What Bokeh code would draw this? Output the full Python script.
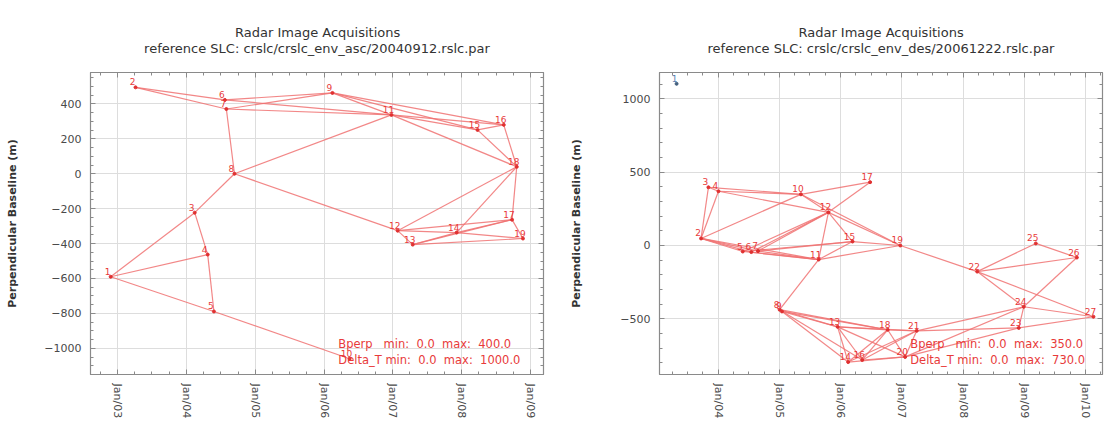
import math
import pandas as pd
from bokeh.plotting import figure
from bokeh.models import (ColumnDataSource, FixedTicker, DatetimeTickFormatter,
                          LinearAxis, DatetimeAxis, Range1d, Title, Label)
from bokeh.layouts import row
from bokeh.embed import file_html
from bokeh.resources import INLINE
from bokeh.core.properties import value

# ---------------- data: ascending track ----------------
asc_ids = list(range(1, 20))
asc_dates = ["2002-11-25", "2003-04-06", "2004-02-14", "2004-04-23", "2004-05-26",
             "2004-07-23", "2004-07-31", "2004-09-12", "2006-02-14", "2006-05-16",
             "2006-12-24", "2007-01-26", "2007-04-16", "2007-12-05", "2008-03-25",
             "2008-08-11", "2008-09-24", "2008-10-19", "2008-11-21"]
asc_bperp = [-590, 495, -223, -463, -789, 423, 371, 0, 463, -1060,
             337, -326, -406, -337, 251, 280, -263, 40, -371]
asc_pairs = [(1, 3), (3, 8), (1, 4), (3, 4), (4, 5), (1, 5), (5, 10),
             (2, 6), (2, 7), (6, 9), (7, 9), (6, 11), (7, 11), (7, 8),
             (8, 11), (8, 12), (9, 11), (9, 15), (9, 16), (11, 15), (11, 16),
             (11, 18), (15, 16), (15, 18), (16, 18), (12, 18), (14, 18), (17, 18),
             (12, 13), (12, 14), (12, 17), (13, 14), (13, 19), (14, 17), (14, 19),
             (17, 19), (13, 17)]
asc_isolated = []
asc_ref = "crslc/crslc_env_asc/20040912.rslc.par"
asc_year_ticks = ["2003-01-01", "2004-01-01", "2005-01-01", "2006-01-01",
                  "2007-01-01", "2008-01-01", "2009-01-01"]
asc_y_ticks = [-1000, -800, -600, -400, -200, 0, 200, 400]
asc_x_limits = ["2002-08-10", "2009-03-10"]
asc_y_limits = [-1150, 580]
asc_stats = ["Bperp   min:  0.0  max:  400.0", "Delta_T min:  0.0  max:  1000.0"]

# ---------------- data: descending track ----------------
des_ids = list(range(1, 28))
des_dates = ["2003-04-27", "2003-09-20", "2003-11-03", "2004-01-02", "2004-05-26",
             "2004-07-16", "2004-08-25", "2005-01-01", "2005-01-15", "2005-05-08",
             "2005-08-22", "2005-10-19", "2005-12-13", "2006-02-14", "2006-03-12",
             "2006-05-09", "2006-06-25", "2006-10-08", "2006-12-22", "2007-01-20",
             "2007-03-30", "2008-03-25", "2008-11-28", "2008-12-28", "2009-03-10",
             "2009-11-10", "2010-02-17"]
des_bperp = [1103, 48, 397, 370, -41, -45, -38, -438, -450, 349,
             -96, 226, -555, -795, 27, -781, 432, -575, 0, -760,
             -582, -178, -562, -418, 14, -82, -486]
des_pairs = [(2, 3), (2, 4), (3, 4), (3, 10), (4, 10), (4, 12), (2, 5), (2, 6),
             (2, 7), (2, 10), (2, 11), (5, 12), (6, 12), (7, 12), (5, 11), (6, 11),
             (7, 11), (5, 15), (7, 15), (8, 11), (10, 12), (10, 17), (10, 19),
             (12, 17), (12, 19), (12, 15), (11, 12), (11, 15), (11, 19), (15, 19),
             (19, 22), (22, 25), (22, 26), (22, 27), (25, 26), (24, 26), (23, 24),
             (24, 27), (23, 27), (22, 24), (21, 24), (21, 23), (20, 23), (20, 24),
             (8, 13), (8, 18), (8, 16), (9, 13), (9, 18), (9, 14), (13, 14),
             (13, 16), (13, 18), (13, 20), (13, 21), (14, 18), (16, 18), (18, 20),
             (18, 21), (14, 20), (14, 21), (16, 20), (16, 21), (20, 21)]
des_isolated = [1]
des_ref = "crslc/crslc_env_des/20061222.rslc.par"
des_year_ticks = ["2004-01-01", "2005-01-01", "2006-01-01", "2007-01-01",
                  "2008-01-01", "2009-01-01", "2010-01-01"]
des_y_ticks = [-500, 0, 500, 1000]
des_x_limits = ["2003-01-15", "2010-04-12"]
des_y_limits = [-880, 1180]
des_stats = ["Bperp   min:  0.0  max:  350.0", "Delta_T min:  0.0  max:  730.0"]

TITLE = "Radar Image Acquisitions"
FONT = "DejaVu Sans"
LINE_RED = "#f07272"
TEXT_RED = "#e83a3a"
FRAME = "#8a8a8a"
NB = "\u00a0"


def ms(d):
    return pd.Timestamp(d).value / 1e6


def style_ticks(ax):
    ax.axis_line_color = FRAME
    ax.major_tick_in = 5
    ax.major_tick_out = 0
    ax.minor_tick_in = 3
    ax.minor_tick_out = 0
    ax.major_tick_line_color = FRAME
    ax.minor_tick_line_color = FRAME


def make_plot(ids, dates, bperp, pairs, isolated, ref, year_ticks, y_ticks, y_minor,
              xlim, ylim, stats, width, b_left, b_right, label_standoff, stats_frac):
    t = [pd.Timestamp(d) for d in dates]
    pos = {i: (tt, b) for i, tt, b in zip(ids, t, bperp)}
    xs = [[pos[a][0], pos[b][0]] for a, b in pairs]
    ys = [[pos[a][1], pos[b][1]] for a, b in pairs]

    x0, x1 = pd.Timestamp(xlim[0]), pd.Timestamp(xlim[1])
    p = figure(width=width, height=427, x_axis_type="datetime",
               x_range=Range1d(x0, x1), y_range=Range1d(ylim[0], ylim[1]),
               output_backend="svg", toolbar_location=None, title=None,
               min_border_left=b_left, min_border_right=b_right,
               min_border_top=72, min_border_bottom=53)
    p.outline_line_color = FRAME
    p.outline_line_width = 1.2
    p.background_fill_color = "white"
    p.border_fill_color = "white"

    # ticks
    major = [ms(d) for d in year_ticks]
    first = pd.Timestamp(year_ticks[0]).year - 1
    last = pd.Timestamp(year_ticks[-1]).year + 1
    minor = [ms(f"{y}-{m:02d}-01") for y in range(first, last + 1) for m in (1, 4, 7, 10)]
    xticker = FixedTicker(ticks=major, minor_ticks=minor)
    fmt = DatetimeTickFormatter(years="%b/%y", months="%b/%y", days="%b/%y",
                                hours="%b/%y", minutes="%b/%y", seconds="%b/%y",
                                milliseconds="%b/%y", microseconds="%b/%y")
    step = y_ticks[1] - y_ticks[0]
    ymin_ticks = [y_ticks[0] - step + k * step / y_minor
                  for k in range((len(y_ticks) + 1) * y_minor + 1)]
    yticker = FixedTicker(ticks=y_ticks, minor_ticks=ymin_ticks)

    xa = p.xaxis[0]
    xa.ticker = xticker
    xa.formatter = fmt
    xa.major_label_orientation = -math.pi / 2
    ya = p.yaxis[0]
    ya.ticker = yticker
    ya.axis_label = "Perpendicular Baseline (m)"
    ya.axis_label_text_font = FONT
    ya.axis_label_text_font_size = "11px"
    ya.axis_label_text_font_style = "bold"
    ya.axis_label_text_color = "#333333"
    ya.axis_label_standoff = label_standoff
    for ax in (xa, ya):
        style_ticks(ax)
        ax.major_label_text_font = FONT
        ax.major_label_text_font_size = "11px"
        ax.major_label_text_color = "#4a4a4a"
        ax.major_label_standoff = 9

    top = DatetimeAxis(ticker=xticker, formatter=fmt,
                       major_label_overrides={m: "" for m in major})
    right = LinearAxis(ticker=yticker,
                       major_label_overrides={v: "" for v in y_ticks})
    for ax in (top, right):
        style_ticks(ax)
        ax.major_label_standoff = 0
    p.add_layout(top, "above")
    p.add_layout(right, "right")

    p.xgrid.ticker = xticker
    p.ygrid.ticker = yticker
    p.xgrid.grid_line_color = "#dddddd"
    p.ygrid.grid_line_color = "#dddddd"

    # two-line title (first line padded so both lines look centred)
    ttl = Title(text=NB * 22 + TITLE + "\nreference SLC: " + ref, align="center",
                text_font=FONT, text_font_size="13px", text_font_style="normal",
                text_color="#333333", text_line_height=1.05, standoff=33)
    p.add_layout(ttl, "above")

    # network lines
    p.multi_line(xs, ys, line_color=LINE_RED, line_width=1.2, line_alpha=0.85)

    conn = [i for i in ids if i not in isolated]
    src = ColumnDataSource(dict(x=[pos[i][0] for i in conn], y=[pos[i][1] for i in conn],
                                lab=[str(i) for i in conn]))
    p.scatter("x", "y", source=src, size=3, color="#e03030")
    p.text("x", "y", text="lab", source=src, text_font=value(FONT),
           text_font_size="9px", text_color=TEXT_RED, text_align="center",
           text_baseline="bottom", x_offset=-3, y_offset=-2)
    if isolated:
        isrc = ColumnDataSource(dict(x=[pos[i][0] for i in isolated],
                                     y=[pos[i][1] for i in isolated],
                                     lab=[str(i) for i in isolated]))
        p.scatter("x", "y", source=isrc, size=3, color="#44607f")
        p.text("x", "y", text="lab", source=isrc, text_font=value(FONT),
               text_font_size="9px", text_color="#5a7fb0", text_align="center",
               text_baseline="bottom", x_offset=-2, y_offset=-2)

    # statistics text
    span = x1 - x0
    tx = x0 + span * stats_frac
    yspan = ylim[1] - ylim[0]
    for k, s in enumerate(stats):
        p.add_layout(Label(x=tx, y=ylim[0] + yspan * (0.1 - 0.052 * k),
                           text=s.replace(" ", NB),
                           text_font=FONT, text_font_size="11.5px",
                           text_color=TEXT_RED, text_baseline="middle"))
    return p


p1 = make_plot(asc_ids, asc_dates, asc_bperp, asc_pairs, asc_isolated, asc_ref,
               asc_year_ticks, asc_y_ticks, 4, asc_x_limits, asc_y_limits, asc_stats,
               567, 90, 24, 22, 0.547)
p2 = make_plot(des_ids, des_dates, des_bperp, des_pairs, des_isolated, des_ref,
               des_year_ticks, des_y_ticks, 5, des_x_limits, des_y_limits, des_stats,
               537, 90, 2, 34, 0.566)

layout = row(p1, p2)
open("out.html", "w").write(file_html(layout, INLINE))
